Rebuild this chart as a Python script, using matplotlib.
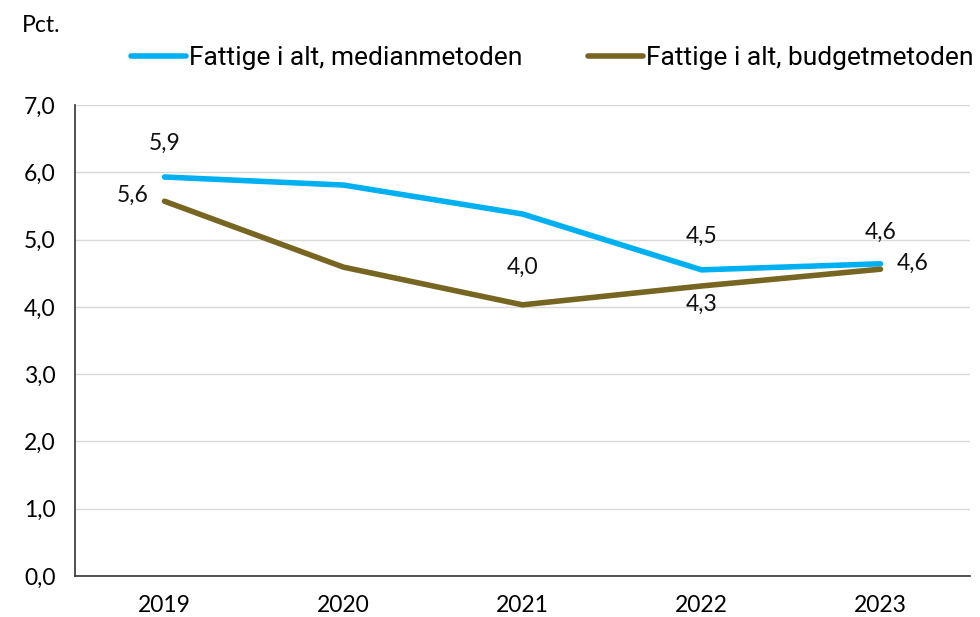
import matplotlib
matplotlib.use("Agg")
import matplotlib.pyplot as plt
from matplotlib import font_manager as fm

years = ["2019", "2020", "2021", "2022", "2023"]
median = [5.93, 5.81, 5.38, 4.55, 4.64]
budget = [5.57, 4.59, 4.03, 4.31, 4.56]
yticks = [0, 1, 2, 3, 4, 5, 6, 7]
ytick_labels = ["0,0", "1,0", "2,0", "3,0", "4,0", "5,0", "6,0", "7,0"]

names = {f.name for f in fm.fontManager.ttflist}
main_font = "Lato" if "Lato" in names else "DejaVu Sans"
leg_font = "Liberation Sans Narrow" if "Liberation Sans Narrow" in names else "Roboto"

blue = "#00B0F0"
brown = "#776522"

fig = plt.figure(figsize=(9.8, 6.17), dpi=100)
ax = fig.add_axes([75/980, 41/617, 895/980, 471/617])
x = list(range(len(years)))
l1, = ax.plot(x, median, color=blue, lw=4, solid_capstyle="round", label="Fattige i alt, medianmetoden")
l2, = ax.plot(x, budget, color=brown, lw=4, solid_capstyle="round", label="Fattige i alt, budgetmetoden")

ax.set_xlim(-0.5, 4.5)
ax.set_ylim(0, 7)
ax.set_yticks(yticks)
ax.set_yticklabels(ytick_labels, fontsize=16.5, family=main_font)
ax.set_xticks(x)
ax.set_xticklabels(years, fontsize=16.5, family=main_font)
ax.tick_params(axis="both", length=0)
ax.tick_params(axis="x", pad=14)
ax.tick_params(axis="y", pad=14)
ax.grid(axis="y", color="#d9d9d9", lw=1)
ax.set_axisbelow(True)
for s in ["top", "right"]:
    ax.spines[s].set_visible(False)
ax.spines["left"].set_color("#333333")
ax.spines["bottom"].set_color("#333333")
ax.spines["left"].set_linewidth(1.2)
ax.spines["bottom"].set_linewidth(1.2)

def lab(xi, yi, txt, dx, dy, ha="center"):
    ax.annotate(txt, (xi, yi), xytext=(dx, dy), textcoords="offset points",
                ha=ha, va="center", fontsize=16.5, family=main_font, color="#111111")

fmt = lambda v: f"{v:.1f}".replace(".", ",")
lab(0, median[0], fmt(median[0]), 0, 24)
lab(3, median[3], fmt(median[3]), 0, 24)
lab(4, median[4], fmt(median[4]), 0, 23)
lab(0, budget[0], fmt(budget[0]), -23, 4)
lab(2, budget[2], fmt(budget[2]), 0, 27)
lab(3, budget[3], fmt(budget[3]), 0, -13)
lab(4, budget[4], fmt(budget[4]), 23, 4)

fig.text(22/980, 1 - 25/617, "Pct.", fontsize=16.5, family=main_font, va="center", ha="left")

leg = fig.legend(handles=[l1, l2], loc="center", bbox_to_anchor=(552/980, 1 - 58/617),
                 ncol=2, frameon=False, handlelength=2.1, handletextpad=0.1,
                 columnspacing=2.5, prop={"family": leg_font, "size": 19})

fig.savefig("out.png", dpi=100, facecolor="white")
